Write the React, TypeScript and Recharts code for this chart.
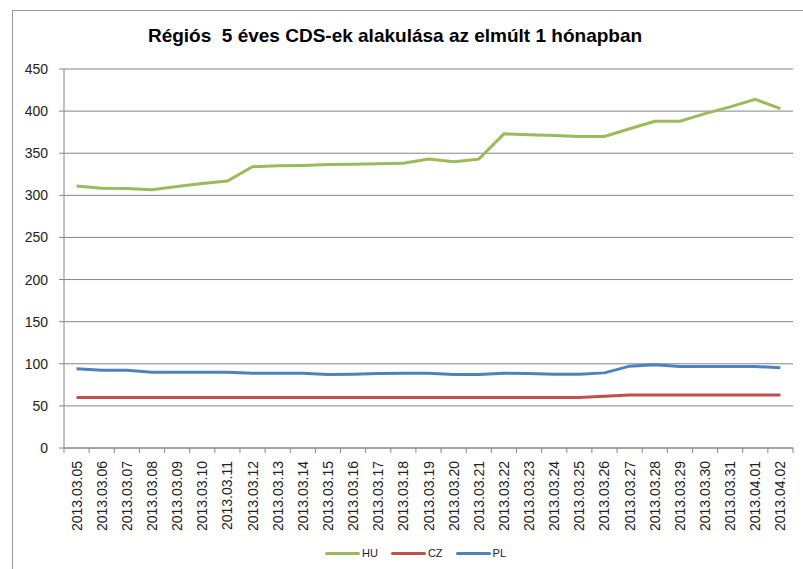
import React from 'react';
import { LineChart, Line, XAxis, YAxis, CartesianGrid } from 'recharts';

const categories = [
    '2013.03.05', '2013.03.06', '2013.03.07', '2013.03.08', '2013.03.09', '2013.03.10',
    '2013.03.11', '2013.03.12', '2013.03.13', '2013.03.14', '2013.03.15', '2013.03.16',
    '2013.03.17', '2013.03.18', '2013.03.19', '2013.03.20', '2013.03.21', '2013.03.22',
    '2013.03.23', '2013.03.24', '2013.03.25', '2013.03.26', '2013.03.27', '2013.03.28',
    '2013.03.29', '2013.03.30', '2013.03.31', '2013.04.01', '2013.04.02',
];

const huValues = [
    311, 308.5, 308, 306.5, 310.5, 314, 317, 334, 335, 335.5, 336.5, 337, 337.5, 338, 343,
    340, 343, 373, 372, 371, 370, 370, 379, 388, 388, 397, 405, 414, 403,
];

const czValues = [
    60, 60, 60, 60, 60, 60, 60, 60, 60, 60, 60, 60, 60, 60, 60,
    60, 60, 60, 60, 60, 60, 61.5, 63, 63, 63, 63, 63, 63, 63,
];

const plValues = [
    94, 92.4, 92.4, 90, 90, 90, 90, 88.8, 88.8, 88.8, 87.2, 87.6, 88.4, 88.8, 88.8,
    87.2, 87.2, 88.8, 88.4, 87.6, 87.6, 89.2, 97.2, 98.8, 96.8, 96.8, 96.8, 96.8, 95.2,
];

const yTicks = [0, 50, 100, 150, 200, 250, 300, 350, 400, 450];

const series = [
    { key: 'HU', name: 'HU', color: '#9BBB59' },
    { key: 'CZ', name: 'CZ', color: '#C0504D' },
    { key: 'PL', name: 'PL', color: '#4F81BD' },
];

const title = 'Régiós  5 éves CDS-ek alakulása az elmúlt 1 hónapban';

const data = categories.map((name, i) => ({
    name,
    HU: huValues[i],
    CZ: czValues[i],
    PL: plValues[i],
}));

const WIDTH = 803;
const HEIGHT = 569;
const PLOT_LEFT = 64;
const PLOT_RIGHT = 793;
const GRID = '#868686';
const FONT = '"Liberation Sans", Arial, sans-serif';

// half of one category slot, Excel puts the points in the middle of each slot
const halfBand = (PLOT_RIGHT - PLOT_LEFT) / categories.length / 2;

const DateTick = (props: any) => {
    const { x, y, payload, index } = props;
    const last = index === categories.length - 1;
    return (
        <g>
            <line x1={x - halfBand} x2={x - halfBand} y1={y} y2={y + 5} stroke={GRID} />
            {last && <line x1={x + halfBand} x2={x + halfBand} y1={y} y2={y + 5} stroke={GRID} />}
            <text
                x={x}
                y={y + 13}
                transform={`rotate(-90, ${x}, ${y + 13})`}
                textAnchor="end"
                dominantBaseline="central"
                fontSize={14}
                fill="#222"
            >
                {payload.value}
            </text>
        </g>
    );
};

export default function App() {
    return (
        <div style={{ position: 'absolute', left: 0, top: 0, width: WIDTH, height: HEIGHT, overflow: 'hidden', background: '#fff', fontFamily: FONT }}>
            <div style={{
                position: 'absolute', left: 12, top: 10, width: 820, height: 600,
                borderLeft: '1px solid #9a9a9a', borderTop: '1px solid #9a9a9a'
            }} />
            <div style={{
                position: 'absolute', left: 0, top: 26, width: 790, textAlign: 'center',
                fontSize: 19, lineHeight: '19px', fontWeight: 'bold', whiteSpace: 'pre', color: '#000'
            }}>
                {title}
            </div>
            <div style={{ position: 'absolute', left: 0, top: 0 }}>
                <LineChart width={WIDTH} height={HEIGHT} data={data} margin={{ top: 69, right: WIDTH - PLOT_RIGHT, bottom: 0, left: 0 }}>
                    <CartesianGrid vertical={false} stroke={GRID} />
                    <XAxis
                        dataKey="name"
                        height={HEIGHT - 448}
                        interval={0}
                        padding={{ left: halfBand, right: halfBand }}
                        stroke={GRID}
                        tickLine={false}
                        tickSize={0}
                        tickMargin={0}
                        tick={<DateTick />}
                    />
                    <YAxis
                        width={PLOT_LEFT}
                        domain={[0, 450]}
                        ticks={yTicks}
                        interval={0}
                        stroke={GRID}
                        tickSize={5}
                        tickMargin={11}
                        tick={{ fontSize: 14, fill: '#222' }}
                    />
                    {series.map(s => (
                        <Line
                            key={s.key}
                            dataKey={s.key}
                            name={s.name}
                            type="linear"
                            stroke={s.color}
                            strokeWidth={3}
                            dot={false}
                            activeDot={false}
                            isAnimationActive={false}
                        />
                    ))}
                </LineChart>
            </div>
            <div style={{ position: 'absolute', left: 325, top: 546, display: 'flex', alignItems: 'center', height: 14 }}>
                {series.map(s => (
                    <div key={s.key} style={{ display: 'flex', alignItems: 'center', marginRight: 13 }}>
                        <div style={{ width: 35, height: 3, borderRadius: 2, backgroundColor: s.color, marginRight: 2 }} />
                        <span style={{ fontSize: 11, color: '#222' }}>{s.name}</span>
                    </div>
                ))}
            </div>
        </div>
    );
}
